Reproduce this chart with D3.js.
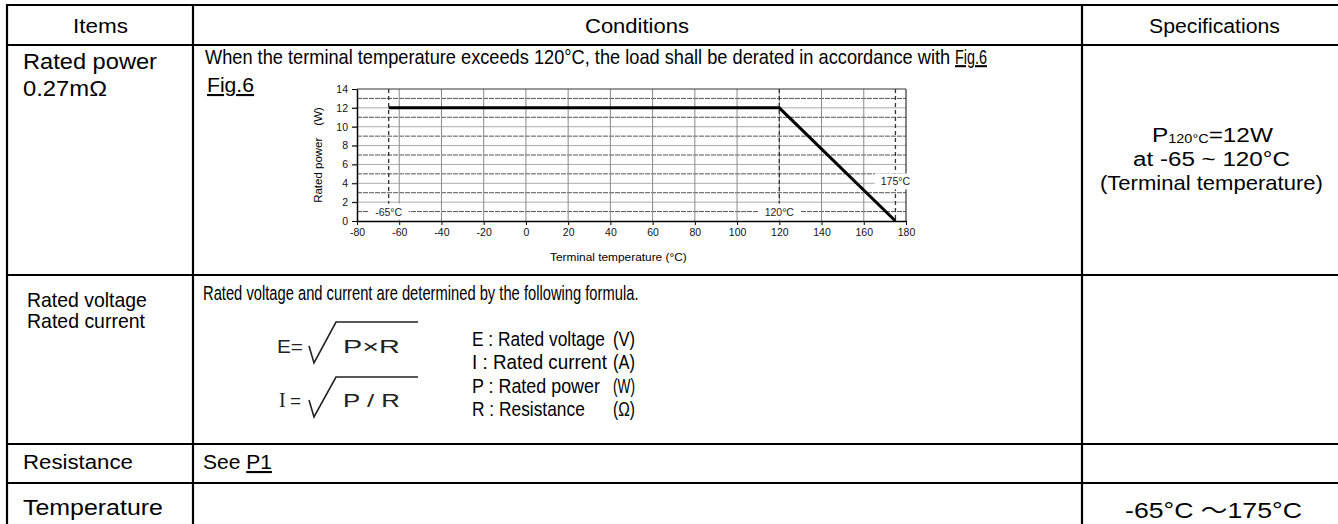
<!DOCTYPE html>
<meta charset="utf-8">
<style>
body { margin: 0; background: #fff; }
svg { display: block; font-family: "Liberation Sans", Arial, sans-serif; }
.table line { stroke: #000; stroke-width: 2.2px; }
.axis path, .axis line { stroke: #000; }
.axis text { font-family: "Liberation Sans", Arial, sans-serif; font-size: 10.5px; fill: #111; }
</style>
<svg width="1338" height="524"></svg>
<script src="https://cdn.jsdelivr.net/npm/d3@7/dist/d3.min.js"></script>
<script>
// chart data (Fig.6 derating curve)
var tempTicks = [-80, -60, -40, -20, 0, 20, 40, 60, 80, 100, 120, 140, 160, 180];
var powerTicks = [0, 2, 4, 6, 8, 10, 12, 14];
var powerGridOdd = [1, 3, 5, 7, 9, 11, 13];
var deratingTemp = [-65, 120, 175];
var deratingPower = [12, 12, 0];
var refTemps = [-65, 120, 175];
var refLabels = ["-65°C", "120°C", "175°C"];
var refLabelPower = [1, 1, 4.2];

// table texts
var headers = ["Items", "Conditions", "Specifications"];
var symbolNames = ["E : Rated voltage", "I  : Rated current", "P : Rated power", "R : Resistance"];
var symbolUnits = ["(V)", "(A)", "(W)", "(Ω)"];
var specPower = ["at -65  ~  120°C", "(Terminal temperature)"];

var svg = d3.select("svg");
var narrow = '"Liberation Sans Narrow","Arial Narrow","Liberation Sans",sans-serif';
var toFit = [];

// text helper; widths are applied later by horizontal scaling
function put(x, y, str, o) {
  o = o || {};
  var t = svg.append("text")
      .attr("x", x).attr("y", y)
      .attr("text-anchor", o.anchor || "start")
      .style("font-size", (o.size || 21) + "px")
      .style("fill", o.fill || "#000")
      .text(str);
  if (o.family) t.style("font-family", o.family);
  if (o.under) t.style("text-decoration", "underline");
  if (o.w) toFit.push([t, x, y, o.w]);
  return t;
}
function fitAll() {
  toFit.forEach(function(f) {
    var t = f[0], k = f[3] / t.node().getComputedTextLength();
    t.attr("x", 0).attr("y", 0)
      .attr("transform", "translate(" + f[1] + "," + f[2] + ") scale(" + k + ",1)");
  });
}

// ---- table grid
var tbl = svg.append("g").attr("class", "table");
[5, 45, 275, 444, 483].forEach(function(y) {
  tbl.append("line").attr("x1", 6).attr("x2", 1338).attr("y1", y).attr("y2", y);
});
[7, 193, 1082].forEach(function(x) {
  tbl.append("line").attr("x1", x).attr("x2", x).attr("y1", 4).attr("y2", 524);
});

// header
put(73, 33, headers[0], {w: 55});
put(585, 33, headers[1], {w: 104});
put(1149, 33, headers[2], {w: 131});

// row 1
put(23, 69, "Rated power", {w: 134, size: 22});
put(23, 96, "0.27mΩ", {w: 84, size: 22});
put(205, 64, "When the terminal temperature exceeds 120°C, the load shall be derated in accordance with", {family: narrow, size: 20.5, w: 746});
put(955, 64, "Fig.6", {family: narrow, size: 20.5, w: 32, under: true});
put(207, 92, "Fig.6", {w: 47, under: true});

var spec = put(1152, 142, "P", {w: 121});
spec.append("tspan").style("font-size", "12.5px").attr("dy", 1).text("120°C");
spec.append("tspan").attr("dy", -1).text("=12W");
put(1133, 166, specPower[0], {w: 157});
put(1100, 190, specPower[1], {w: 223});

// row 2
put(27, 307, "Rated voltage", {w: 120});
put(27, 328, "Rated current", {w: 118});
put(203, 300, "Rated voltage and current are determined by the following formula.", {family: narrow, size: 19.5, w: 436});

// formulas
var fcol = "#222";
put(277, 353, "E=", {size: 19, fill: fcol, w: 26});
put(343, 353, "P×R", {size: 18, fill: fcol, w: 57});
put(279, 407, "I", {size: 20, fill: fcol, family: '"Liberation Serif",serif'});
put(290, 407, "=", {size: 19, fill: fcol});
put(343, 407, "P / R", {size: 18, fill: fcol, w: 57});
[[346, 322], [400, 377]].forEach(function(r) {
  var p = d3.path();
  p.moveTo(309, r[0]);
  p.lineTo(314, r[0] + 17);
  p.lineTo(336, r[1]);
  p.lineTo(418, r[1]);
  svg.append("path").attr("d", p.toString())
      .attr("fill", "none").attr("stroke", fcol).attr("stroke-width", 1.6);
});

var nameW = [133, 135, 128, 113];
symbolNames.forEach(function(s, i) {
  var y = 346 + i * 23.3;
  put(472, y, s, {size: 19.5, w: nameW[i]});
  put(613, y, symbolUnits[i], {size: 19.5, w: 22});
});

// row 3
put(23, 469, "Resistance", {w: 110});
var see = put(203, 469, "See ", {size: 21});
see.append("tspan").style("text-decoration", "underline").text("P1");

// row 4
put(23, 515, "Temperature", {w: 140, size: 22});
var tr = put(1125, 518, "-65°C ", {size: 22, w: 177});
tr.append("tspan").style("font-family", '"Noto Sans CJK JP",sans-serif').text("～");
tr.append("tspan").text("175°C");

// axis titles of the figure
put(550, 261, "Terminal temperature (°C)", {size: 11, w: 137});

fitAll();

svg.append("text")
    .attr("transform", "translate(322,155) rotate(-90)")
    .attr("text-anchor", "middle")
    .style("font-size", "11.5px")
    .text("Rated power　(W)");

// ---- Fig.6 chart
var x = d3.scaleLinear().domain([-80, 180]).range([357, 906]);
var y = d3.scaleLinear().domain([0, 14]).range([221, 89]);
var chart = svg.append("g");

// odd horizontal grid (dark, fine dashes)
chart.append("g").selectAll("line").data(powerGridOdd).enter().append("line")
    .attr("x1", x(-80)).attr("x2", x(180))
    .attr("y1", function(d) { return y(d); }).attr("y2", function(d) { return y(d); })
    .attr("stroke", "#555").attr("stroke-dasharray", "5,1");
// even horizontal grid (light), with tick stubs to the left
chart.append("g").selectAll("line").data(powerTicks.slice(1, 7)).enter().append("line")
    .attr("x1", x(-80) - 5).attr("x2", x(180))
    .attr("y1", function(d) { return y(d); }).attr("y2", function(d) { return y(d); })
    .attr("stroke", "#aaa");
// vertical grid
chart.append("g").selectAll("line").data(tempTicks.slice(1, 13)).enter().append("line")
    .attr("x1", function(d) { return x(d); }).attr("x2", function(d) { return x(d); })
    .attr("y1", y(14)).attr("y2", y(0))
    .attr("stroke", "#8a8a8a");
// frame top / right
chart.append("line").attr("x1", x(-80)).attr("x2", x(180)).attr("y1", y(14)).attr("y2", y(14)).attr("stroke", "#333");
chart.append("line").attr("x1", x(180)).attr("x2", x(180)).attr("y1", y(14)).attr("y2", y(0)).attr("stroke", "#444").attr("stroke-width", 1.3);

// reference lines
chart.append("g").selectAll("line").data(refTemps).enter().append("line")
    .attr("x1", function(d) { return x(d); }).attr("x2", function(d) { return x(d); })
    .attr("y1", y(14)).attr("y2", y(0))
    .attr("stroke", "#333").attr("stroke-width", 1.3).attr("stroke-dasharray", "4,3");

// derating curve
var line = d3.line()
    .x(function(d, i) { return x(deratingTemp[i]); })
    .y(function(d) { return y(d); });
chart.append("path").datum(deratingPower)
    .attr("d", line)
    .attr("fill", "none").attr("stroke", "#000").attr("stroke-width", 3);

// reference labels on white boxes
refLabels.forEach(function(lab, i) {
  var g = chart.append("g");
  var t = g.append("text")
      .attr("x", x(refTemps[i])).attr("y", y(refLabelPower[i]) + 4)
      .attr("text-anchor", "middle")
      .style("font-size", "10.5px").style("fill", "#222")
      .text(lab);
  var b = t.node().getBBox();
  g.insert("rect", "text")
      .attr("x", b.x - 6).attr("y", b.y - 2)
      .attr("width", b.width + 12).attr("height", b.height + 4)
      .attr("fill", "#fff");
});

// axes (plain hyphen minus like the source)
chart.append("g").attr("class", "axis")
    .attr("transform", "translate(0," + y(0) + ")")
    .call(d3.axisBottom(x).tickValues(tempTicks).tickFormat(String).tickSize(4).tickPadding(4).tickSizeOuter(0));
chart.append("g").attr("class", "axis")
    .attr("transform", "translate(" + x(-80) + ",0)")
    .call(d3.axisLeft(y).tickValues(powerTicks).tickFormat(String).tickSize(5).tickPadding(4).tickSizeOuter(0));
chart.selectAll(".axis .domain").attr("stroke-width", 1.5);
</script>
